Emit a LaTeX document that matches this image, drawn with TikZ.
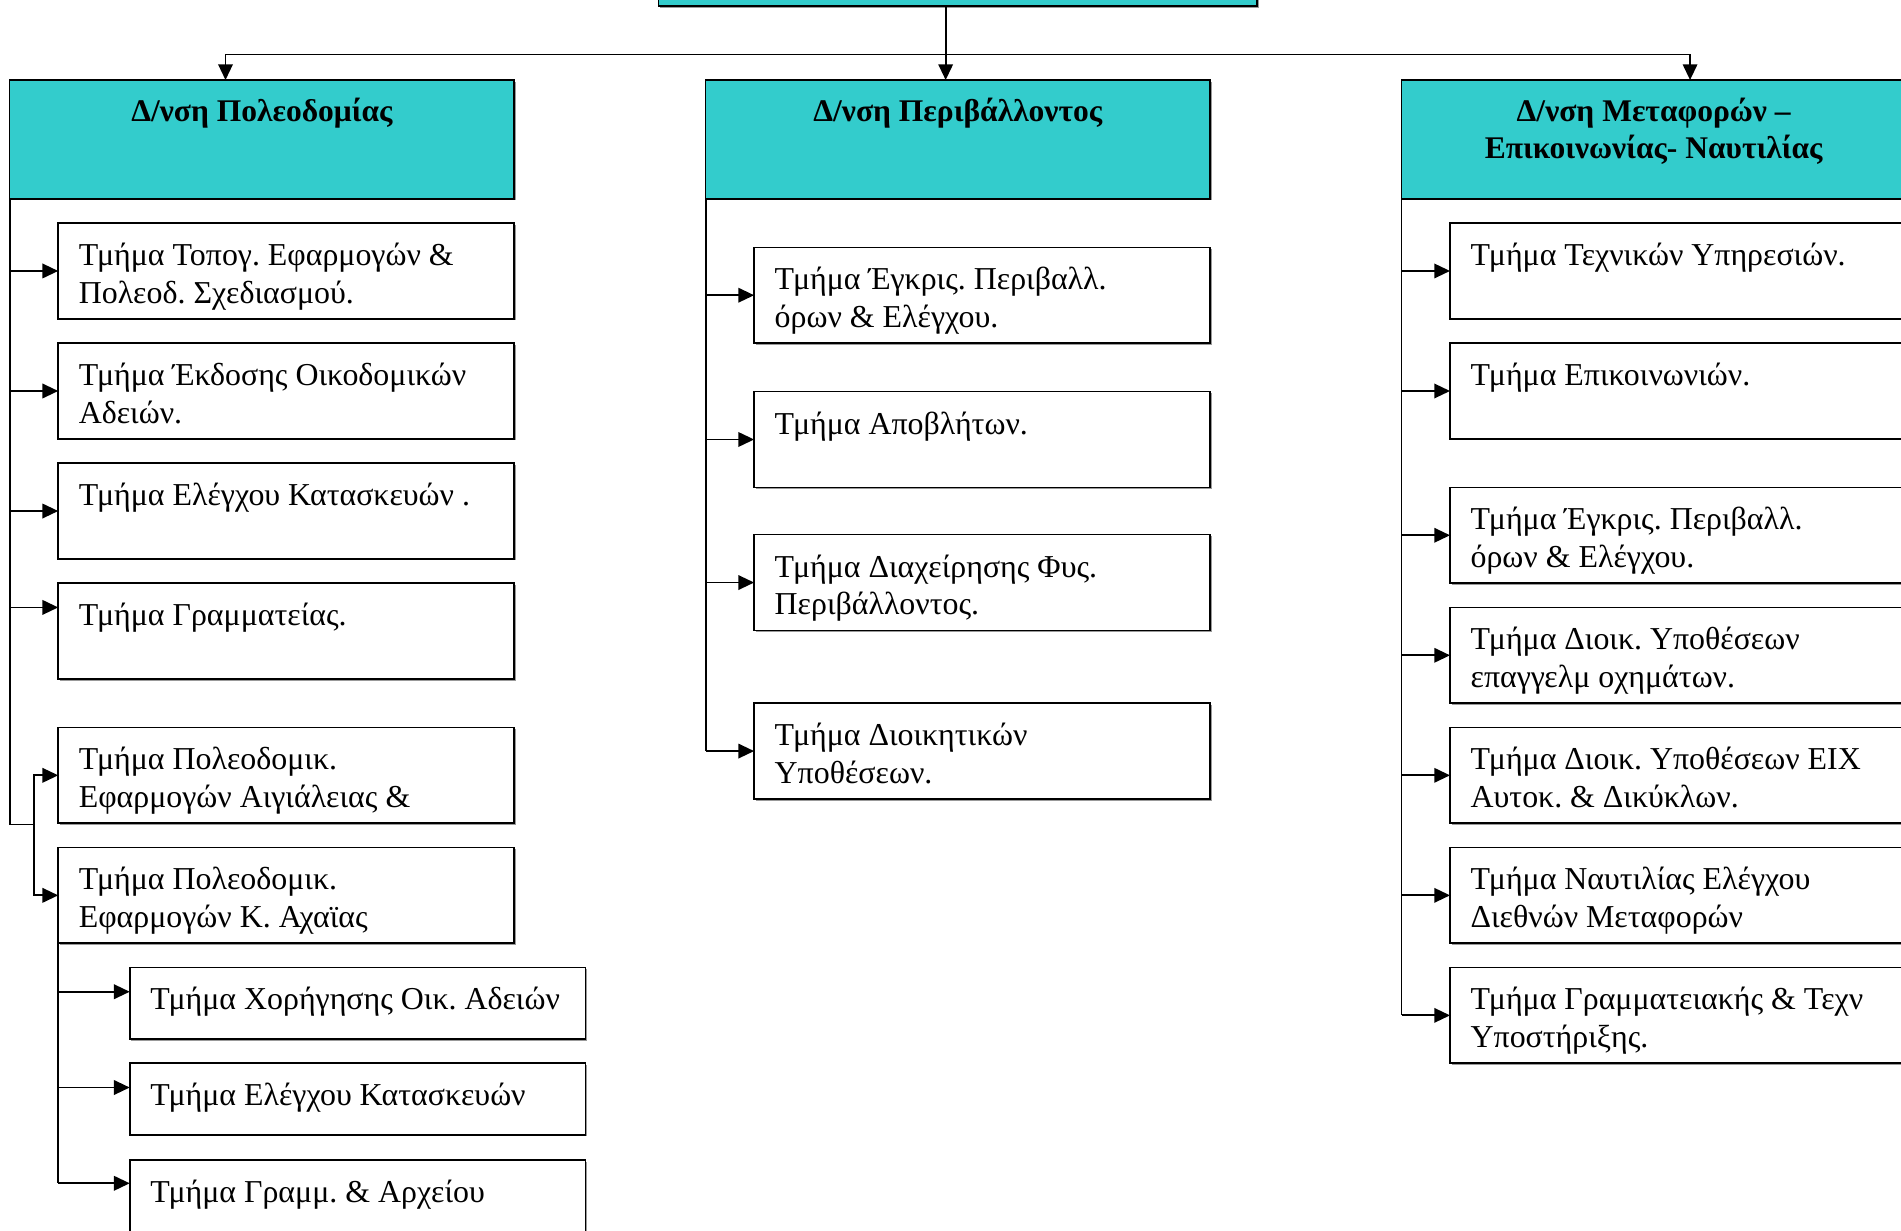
\documentclass[tikz,border=0pt]{standalone}
\usepackage{fontspec}
\setmainfont{Liberation Serif}
\usetikzlibrary{arrows.meta,shadows}
\definecolor{headcyan}{HTML}{33CCCC}
\frenchspacing
\newcommand\lines[2]{\begin{tabular}[t]{@{}l@{}}#1\\#2\end{tabular}}
\newcommand\clines[2]{\begin{tabular}[t]{@{}c@{}}#1\\#2\end{tabular}}
\begin{document}
\begin{tikzpicture}[x=1pt,y=-1pt,
  every node/.style={inner sep=0pt,outer sep=0pt},
  shade box/.style={draw=black,line width=1.3pt,
    general shadow={fill=black!40,shadow xshift=1.3pt,shadow yshift=-1.3pt}},
  headbox/.style={shade box,fill=headcyan,anchor=north west,
    minimum width=416pt,minimum height=98pt},
  unitbox/.style={shade box,fill=white,anchor=north west,
    minimum width=376pt,minimum height=79pt},
  subbox/.style={unitbox,minimum height=59pt},
  bodytext/.style={anchor=base west,font=\fontsize{26.3}{31}\selectfont},
  headtext/.style={anchor=base,font=\fontsize{26}{31}\selectfont\bfseries},
  link/.style={line width=1.5pt},
  arr/.style={link,-{Triangle[length=13pt,width=12pt]}}]
\useasboundingbox (0,0) rectangle (1568,1015);
\clip (0,0) rectangle (1568,1015);

% top-level directorate box (only its lower edge is in view)
\node[shade box,fill=headcyan,anchor=south west,minimum width=494pt,minimum height=60pt] (dir) at (543,5) {};

% directorates
\node[headbox] (L) at (8,66) {};
\node[headbox] (M) at (582,66) {};
\node[headbox] (R) at (1156,66) {};
\node[headtext] (Lt) at ([yshift=-34pt]L.north) {Δ/νση Πολεοδομίας};
\node[headtext] (Mt) at ([yshift=-34pt]M.north) {Δ/νση Περιβάλλοντος};
\node[headtext] (Rt) at ([yshift=-34pt]R.north) {\clines{Δ/νση Μεταφορών –}{Επικοινωνίας- Ναυτιλίας}};

% bus from the top box to the directorates
\coordinate (busM) at (780,45);
\coordinate (busL) at (186,45);
\coordinate (busR) at (1394,45);
\draw[link] (dir.south -| busM) -- (busM);
\draw[arr] (busM) -- (busM |- M.north);
\draw[arr] (busM) -| (busL |- L.north);
\draw[arr] (busM) -| (busR |- R.north);

% urban planning departments
\node[unitbox] (b1) at (48,184) {};
\node[unitbox] (b2) at (48,283) {};
\node[unitbox] (b3) at (48,382) {};
\node[unitbox] (b4) at (48,481) {};
\node[unitbox] (b5) at (48,600) {};
\node[unitbox] (b6) at (48,699) {};
\node[subbox] (sa) at (107,798) {};
\node[subbox] (sb) at (107,877) {};
\node[subbox] (sc) at (107,957) {};

\node[bodytext] (b1t) at ([shift={(17pt,-35pt)}]b1.north west) {\lines{Τμήμα Τοπογ. Εφαρμογών \&}{Πολεοδ. Σχεδιασμού.}};
\node[bodytext] (b2t) at ([shift={(17pt,-35pt)}]b2.north west) {\lines{Τμήμα Έκδοσης Οικοδομικών}{Αδειών.}};
\node[bodytext] (b3t) at ([shift={(17pt,-35pt)}]b3.north west) {Τμήμα Ελέγχου Κατασκευών .};
\node[bodytext] (b4t) at ([shift={(17pt,-35pt)}]b4.north west) {Τμήμα Γραμματείας.};
\node[bodytext] (b5t) at ([shift={(17pt,-35pt)}]b5.north west) {\lines{Τμήμα Πολεοδομικ.}{Εφαρμογών Αιγιάλειας \&}};
\node[bodytext] (b6t) at ([shift={(17pt,-35pt)}]b6.north west) {\lines{Τμήμα Πολεοδομικ.}{Εφαρμογών Κ. Αχαϊας}};
\node[bodytext] (sat) at ([shift={(17pt,-35pt)}]sa.north west) {Τμήμα Χορήγησης Οικ. Αδειών};
\node[bodytext] (sbt) at ([shift={(17pt,-35pt)}]sb.north west) {Τμήμα Ελέγχου Κατασκευών};
\node[bodytext] (sct) at ([shift={(17pt,-35pt)}]sc.north west) {Τμήμα Γραμμ. \& Αρχείου};

\coordinate (jL) at (8,680);
\coordinate (jL2) at (28,680);
\coordinate (p4) at ([yshift=-20pt]b4.north west);
\coordinate (pa) at ([yshift=-20pt]sa.north west);
\coordinate (pb) at ([yshift=-20pt]sb.north west);
\coordinate (pc) at ([yshift=-19pt]sc.north west);
\draw[link] (L.south west) -- (jL) -- (jL2);
\foreach \b in {b1,b2,b3}
  \draw[arr] (L.south west |- \b.west) -- (\b.west);
\draw[arr] (L.south west |- p4) -- (p4);
\draw[arr] (jL2) |- (b5.west);
\draw[arr] (jL2) |- (b6.west);
\draw[link] (b6.south west) -- (b6.south west |- pc);
\foreach \p in {pa,pb,pc}
  \draw[arr] (b6.south west |- \p) -- (\p);

% environment departments
\node[unitbox] (m1) at (622,204) {};
\node[unitbox] (m2) at (622,323) {};
\node[unitbox] (m3) at (622,441) {};
\node[unitbox] (m4) at (622,580) {};
\node[bodytext] (m1t) at ([shift={(17pt,-35pt)}]m1.north west) {\lines{Τμήμα Έγκρις. Περιβαλλ.}{όρων \& Ελέγχου.}};
\node[bodytext] (m2t) at ([shift={(17pt,-35pt)}]m2.north west) {Τμήμα Αποβλήτων.};
\node[bodytext] (m3t) at ([shift={(17pt,-35pt)}]m3.north west) {\lines{Τμήμα Διαχείρησης Φυς.}{Περιβάλλοντος.}};
\node[bodytext] (m4t) at ([shift={(17pt,-35pt)}]m4.north west) {\lines{Τμήμα Διοικητικών}{Υποθέσεων.}};
\draw[link] (M.south west) -- (M.south west |- m4.west);
\foreach \b in {m1,m2,m3,m4}
  \draw[arr] (M.south west |- \b.west) -- (\b.west);

% transport, communications and shipping departments
\node[unitbox] (r1) at (1196,184) {};
\node[unitbox] (r2) at (1196,283) {};
\node[unitbox] (r3) at (1196,402) {};
\node[unitbox] (r4) at (1196,501) {};
\node[unitbox] (r5) at (1196,600) {};
\node[unitbox] (r6) at (1196,699) {};
\node[unitbox] (r7) at (1196,798) {};
\node[bodytext] (r1t) at ([shift={(17pt,-35pt)}]r1.north west) {Τμήμα Τεχνικών Υπηρεσιών.};
\node[bodytext] (r2t) at ([shift={(17pt,-35pt)}]r2.north west) {Τμήμα Επικοινωνιών.};
\node[bodytext] (r3t) at ([shift={(17pt,-35pt)}]r3.north west) {\lines{Τμήμα Έγκρις. Περιβαλλ.}{όρων \& Ελέγχου.}};
\node[bodytext] (r4t) at ([shift={(17pt,-35pt)}]r4.north west) {\lines{Τμήμα Διοικ. Υποθέσεων}{επαγγελμ οχημάτων.}};
\node[bodytext] (r5t) at ([shift={(17pt,-35pt)}]r5.north west) {\lines{Τμήμα Διοικ. Υποθέσεων ΕΙΧ}{Αυτοκ. \& Δικύκλων.}};
\node[bodytext] (r6t) at ([shift={(17pt,-35pt)}]r6.north west) {\lines{Τμήμα Ναυτιλίας Ελέγχου}{Διεθνών Μεταφορών}};
\node[bodytext] (r7t) at ([shift={(17pt,-35pt)}]r7.north west) {\lines{Τμήμα Γραμματειακής \& Τεχν}{Υποστήριξης.}};
\draw[link] (R.south west) -- (R.south west |- r7.west);
\foreach \b in {r1,r2,r3,r4,r5,r6,r7}
  \draw[arr] (R.south west |- \b.west) -- (\b.west);
\end{tikzpicture}
\end{document}
